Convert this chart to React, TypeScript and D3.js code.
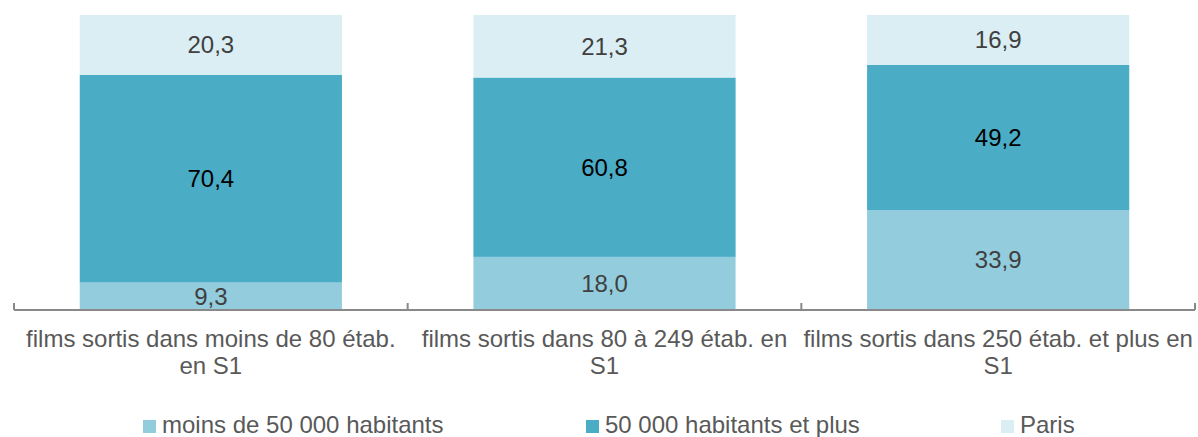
import React from "react";
import * as d3 from "d3";

const categories = [
  "films sortis dans moins de 80 étab. en S1",
  "films sortis dans 80 à 249 étab. en S1",
  "films sortis dans 250 étab. et plus en S1",
];
const categoryLines = [
  ["films sortis dans moins de 80 étab.", "en S1"],
  ["films sortis dans 80 à 249 étab. en", "S1"],
  ["films sortis dans 250 étab. et plus en", "S1"],
];
const seriesNames = ["moins de 50 000 habitants", "50 000 habitants et plus", "Paris"];
const moins50000 = [9.3, 18.0, 33.9];
const plus50000 = [70.4, 60.8, 49.2];
const paris = [20.3, 21.3, 16.9];
const seriesColors = ["#93CDDD", "#4BACC6", "#DAEEF3"];
const labelColors = ["#404040", "#000000", "#404040"];

const W = 1198;
const H = 437;
const FONT = "'Liberation Sans', Arial, sans-serif";

export default function App() {
  const x = d3.scaleBand<string>().domain(categories).range([14, 1195]).paddingInner(0.334).paddingOuter(0.167);
  const y = d3.scaleLinear().domain([0, 100]).range([310, 15]);

  const rows = categories.map((c, i) => ({ cat: c, s0: moins50000[i], s1: plus50000[i], s2: paris[i] }));
  const stack = d3.stack<any>().keys(["s0", "s1", "s2"]);
  const layers = stack(rows);

  const step = x.step();
  const tickXs = d3.range(categories.length + 1).map((i) => 14 + i * step);

  const legendX = [143, 586, 1001];

  return (
    <svg width={W} height={H} style={{ position: "absolute", left: 0, top: 0, background: "#fff" }} fontFamily={FONT}>
      {layers.map((layer, li) => (
        <g key={li}>
          {layer.map((d, i) => {
            const bx = x(categories[i])!;
            const y0 = y(d[0]);
            const y1 = y(Math.min(d[1], 100));
            const vals = [moins50000, plus50000, paris][li];
            return (
              <g key={i}>
                <rect x={bx} y={y1} width={x.bandwidth()} height={y0 - y1} fill={seriesColors[li]} />
                <text
                  x={bx + x.bandwidth() / 2}
                  y={(y0 + y1) / 2 + 8.5}
                  textAnchor="middle"
                  fontSize={24}
                  fill={labelColors[li]}
                >
                  {vals[i].toFixed(1).replace(".", ",")}
                </text>
              </g>
            );
          })}
        </g>
      ))}
      <line x1={14} x2={1195} y1={310} y2={310} stroke="#898989" strokeWidth={2} />
      {tickXs.map((tx, i) => (
        <line key={i} x1={tx} x2={tx} y1={303} y2={310} stroke="#898989" strokeWidth={2} />
      ))}
      {categoryLines.map((lines, i) => (
        <text key={i} textAnchor="middle" fontSize={24} fill="#595959">
          {lines.map((l, j) => (
            <tspan key={j} x={x(categories[i])! + x.bandwidth() / 2} y={347 + j * 27}>
              {l}
            </tspan>
          ))}
        </text>
      ))}
      {seriesNames.map((n, i) => (
        <g key={n}>
          <rect x={legendX[i]} y={420} width={13} height={13} fill={seriesColors[i]} />
          <text x={legendX[i] + 19} y={433} fontSize={24} fill="#595959">
            {n}
          </text>
        </g>
      ))}
    </svg>
  );
}
